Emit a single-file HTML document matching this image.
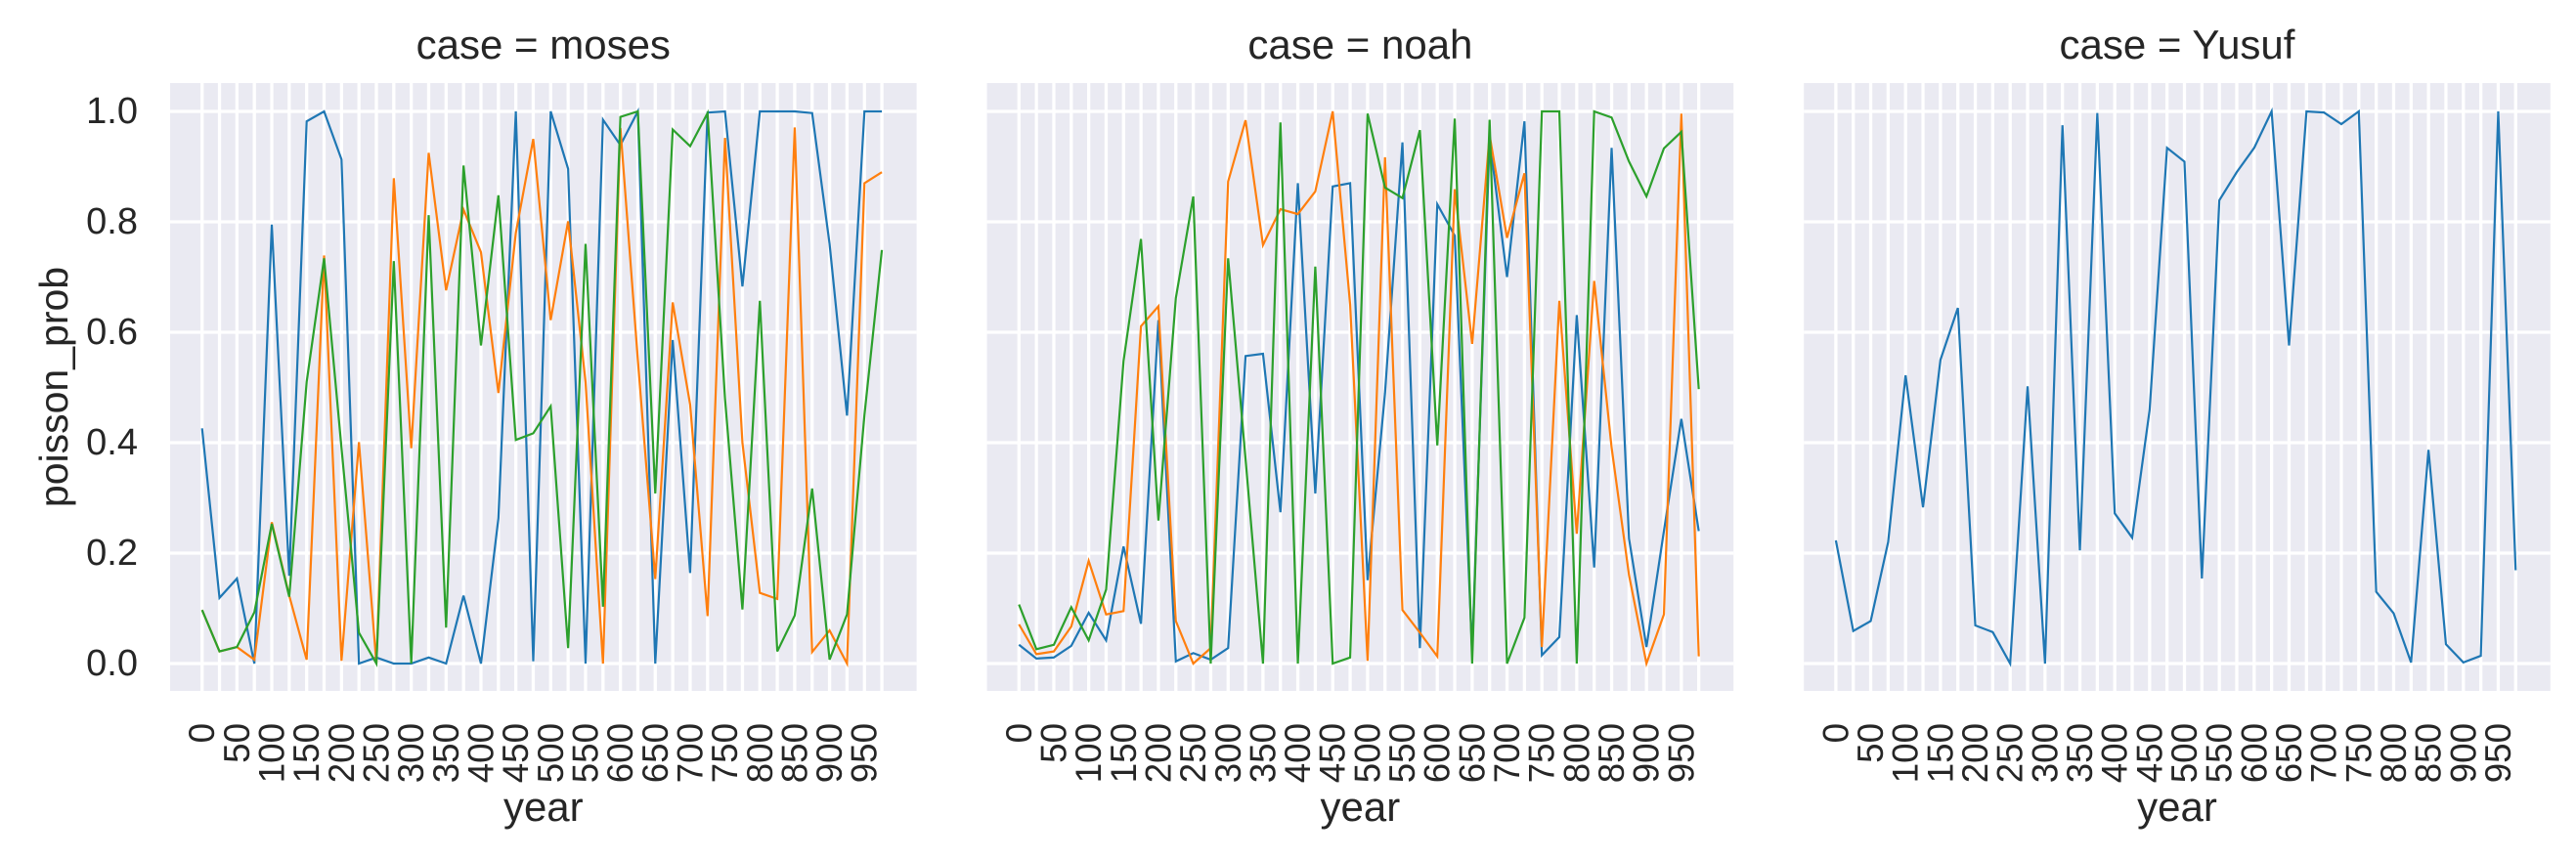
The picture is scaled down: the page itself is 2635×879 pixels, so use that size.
<!DOCTYPE html>
<html><head><meta charset="utf-8"><style>
html,body{margin:0;padding:0;background:#fff;}
svg{display:block;font-family:"Liberation Sans",Arial,sans-serif;}
</style></head><body>
<svg id="chart" width="2635" height="879" viewBox="0 0 2635 879" xmlns="http://www.w3.org/2000/svg"></svg>
<script>
const cases = ["moses", "noah", "Yusuf"];
const years = [];
for (let y = 0; y <= 975; y += 25) years.push(y);
const yTicks = [0, 0.2, 0.4, 0.6, 0.8, 1.0];
const yTickLabels = ["0.0", "0.2", "0.4", "0.6", "0.8", "1.0"];
const xTickLabels = ["0","50","100","150","200","250","300","350","400","450","500","550","600","650","700","750","800","850","900","950"];

const mosesBlue = [0.426,0.119,0.154,0,0.795,0.159,0.982,1.0,0.913,0,0.011,0,0,0.011,0,0.123,0,0.263,1.0,0.004,1.0,0.896,0,0.985,0.939,1.0,0,0.586,0.164,0.998,1.0,0.683,1.0,1.0,1.0,0.997,0.76,0.449,1.0,1.0];
const mosesOrange = [0.097,0.022,0.03,0.007,0.256,0.123,0.007,0.739,0.005,0.401,0,0.879,0.39,0.925,0.676,0.822,0.745,0.49,0.78,0.95,0.622,0.801,0.51,0,0.97,0.55,0.153,0.654,0.469,0.086,0.952,0.40,0.128,0.117,0.971,0.021,0.06,0,0.87,0.89];
const mosesGreen = [0.097,0.022,0.03,0.093,0.253,0.121,0.51,0.734,0.39,0.056,0,0.729,0,0.812,0.065,0.902,0.576,0.848,0.405,0.417,0.466,0.028,0.76,0.103,0.99,1.0,0.308,0.967,0.937,0.997,0.48,0.098,0.657,0.022,0.087,0.317,0.007,0.089,0.45,0.749];
const noahBlue = [0.034,0.009,0.011,0.032,0.092,0.042,0.212,0.072,0.622,0.004,0.019,0.007,0.028,0.557,0.561,0.274,0.870,0.308,0.864,0.870,0.151,0.49,0.944,0.028,0.832,0.775,0.02,0.95,0.70,0.982,0.015,0.048,0.631,0.174,0.934,0.226,0.03,0.24,0.443,0.24];
const noahOrange = [0.071,0.017,0.022,0.067,0.186,0.089,0.095,0.611,0.647,0.077,0,0.028,0.873,0.984,0.758,0.823,0.814,0.855,1.0,0.65,0.005,0.917,0.097,0.056,0.013,0.859,0.579,0.957,0.771,0.888,0.03,0.657,0.235,0.693,0.391,0.16,0,0.089,0.996,0.013];
const noahGreen = [0.107,0.026,0.034,0.102,0.042,0.134,0.548,0.769,0.259,0.662,0.846,0,0.734,0.37,0,0.98,0,0.719,0,0.011,0.996,0.862,0.843,0.966,0.395,0.987,0,0.985,0,0.083,1.0,1.0,0,1.0,0.989,0.909,0.846,0.933,0.963,0.497];
const yusufBlue = [0.223,0.059,0.077,0.22,0.522,0.283,0.55,0.644,0.069,0.057,0,0.502,0,0.975,0.205,0.997,0.272,0.228,0.459,0.934,0.909,0.154,0.839,0.89,0.934,1.0,0.576,1.0,0.998,0.977,1.0,0.13,0.091,0.002,0.387,0.035,0.002,0.014,1.0,0.169];

const panelSeries = [
  [mosesBlue, mosesOrange, mosesGreen],
  [noahBlue, noahOrange, noahGreen],
  [yusufBlue]
];
const colors = ["#1f77b4", "#ff7f0e", "#2ca02c"];
const seriesNames = ["series-blue", "series-orange", "series-green"];

const NS = "http://www.w3.org/2000/svg";
const svg = document.getElementById("chart");
const PANEL_DX = 835.6, PLOT_L = 174, PLOT_R = 937.6, PLOT_T = 85, PLOT_B = 707;
const X0 = 206.7, XSTEP = 17.83;
function xScale(i, p) { return X0 + XSTEP * i + p * PANEL_DX; }
function yScale(v) { return 679 - v * 565; }
function mk(tag, attrs, parent) {
  const el = document.createElementNS(NS, tag);
  for (const k in attrs) el.setAttribute(k, attrs[k]);
  (parent || svg).appendChild(el);
  return el;
}

cases.forEach((c, p) => {
  const g = mk("g", {});
  
  
  const off = p * PANEL_DX;
  const bg = mk("rect", {x: PLOT_L + off, y: PLOT_T, width: PLOT_R - PLOT_L, height: PLOT_B - PLOT_T, fill: "#eaeaf2"}, g);
  
  
  years.forEach((yr, i) => {
    const gl = mk("line", {x1: xScale(i, p), x2: xScale(i, p), y1: PLOT_T, y2: PLOT_B, stroke: "#fff", "stroke-width": 3.3}, g);
    
    
  });
  yTicks.forEach((v, k) => {
    const gl = mk("line", {x1: PLOT_L + off, x2: PLOT_R + off, y1: yScale(v), y2: yScale(v), stroke: "#fff", "stroke-width": 3.3}, g);
    
    
    if (p === 0) {
      const t = mk("text", {x: 141, y: yScale(v), "text-anchor": "end", "dominant-baseline": "central", "font-size": 38, fill: "#262626"}, g);
      t.textContent = yTickLabels[k];
      
      
    }
  });
  xTickLabels.forEach((lab, k) => {
    const xi = xScale(k * 2, p);
    const t = mk("text", {transform: "translate(" + xi + ",740) rotate(-90)", "text-anchor": "end", "dominant-baseline": "central", "font-size": 36.7, fill: "#262626"}, g);
    t.textContent = lab;
    
    
  });
  panelSeries[p].forEach((vals, s) => {
    const pts = vals.map((v, i) => xScale(i, p).toFixed(2) + "," + yScale(v).toFixed(2)).join(" ");
    const pl = mk("polyline", {points: pts, fill: "none", stroke: colors[s], "stroke-width": 2.2, "stroke-linejoin": "miter"}, g);
    
    
  });
  const title = mk("text", {x: (PLOT_L + PLOT_R) / 2 + off, y: 60, "text-anchor": "middle", "font-size": 42, fill: "#262626"}, g);
  title.textContent = "case = " + c;
  
  
  const xl = mk("text", {x: (PLOT_L + PLOT_R) / 2 + off, y: 840, "text-anchor": "middle", "font-size": 42, fill: "#262626"}, g);
  xl.textContent = "year";
  
  
});
const yl = mk("text", {transform: "translate(55,396) rotate(-90)", "text-anchor": "middle", "dominant-baseline": "central", "font-size": 41, fill: "#262626"});
yl.textContent = "poisson_prob";


</script>
</body></html>
